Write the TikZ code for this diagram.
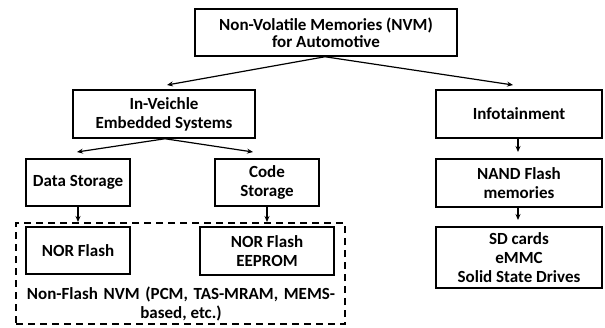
\documentclass[tikz,border=0pt]{standalone}
\usepackage{fontspec}
\setmainfont{Carlito}
\usetikzlibrary{arrows.meta}
\begin{document}
\begin{tikzpicture}[x=1pt,y=-1pt,
  box/.style={draw, line width=1.5pt, align=center, inner sep=0pt, font=\bfseries\fontsize{17}{19}\selectfont},
  conn/.style={line width=1.2pt, -{Stealth[length=6pt,width=5pt]}},
  txt/.style={align=center, inner sep=0pt, font=\bfseries\fontsize{17}{19}\selectfont}]
\useasboundingbox (0,0) rectangle (605,327);
\node[box, minimum width=262, minimum height=47, font=\bfseries\fontsize{17}{17}\selectfont] (nvm) at (326,32.5) {Non-Volatile Memories (NVM)\\for Automotive};
\node[box, minimum width=182, minimum height=48] (inv) at (164,114) {In-Veichle\\Embedded Systems};
\node[box, minimum width=166, minimum height=48] (info) at (519,114) {Infotainment};
\node[box, minimum width=104, minimum height=47] (data) at (78,182.5) {Data Storage};
\node[box, minimum width=104, minimum height=47] (code) at (267,182.5) {Code\\Storage};
\node[box, minimum width=166, minimum height=48] (nand) at (519,183) {NAND Flash\\memories};
\node[box, minimum width=104, minimum height=47] (nor) at (78,250.5) {NOR Flash};
\node[box, minimum width=134, minimum height=48] (noree) at (267,251) {NOR Flash\\EEPROM};
\node[box, minimum width=166, minimum height=61] (sd) at (519,257.5) {SD cards\\eMMC\\Solid State Drives};
\node[draw, line width=1.5pt, dash pattern=on 7pt off 5pt, minimum width=329, minimum height=101, inner sep=0pt] (dash) at (180.5,273.5) {};
\node[txt] (nf) at (181,303.5) {\makebox[308pt][s]{Non-Flash NVM (PCM, TAS-MRAM, MEMS-}\\based, etc.)};
\coordinate (inl) at (167,85);
\coordinate (inr) at (513,85);
\coordinate (dl) at (77,152);
\coordinate (dr) at (253,152);
\coordinate (ntop) at (78,222);
\coordinate (ctop) at (267,222);
\coordinate (iend) at (518,152);
\coordinate (nend) at (518,220);
\draw[conn] ([xshift=-1pt]nvm.south) -- (inl);
\draw[conn] ([xshift=-1pt]nvm.south) -- (inr);
\draw[conn] ([xshift=1pt]inv.south) -- (dl);
\draw[conn] ([xshift=1pt]inv.south) -- (dr);
\draw[conn] ([xshift=-1pt]info.south) -- (iend);
\draw[conn] (data.south) -- (ntop);
\draw[conn] (code.south) -- (ctop);
\draw[conn] ([xshift=-1pt]nand.south) -- (nend);
\end{tikzpicture}
\end{document}
